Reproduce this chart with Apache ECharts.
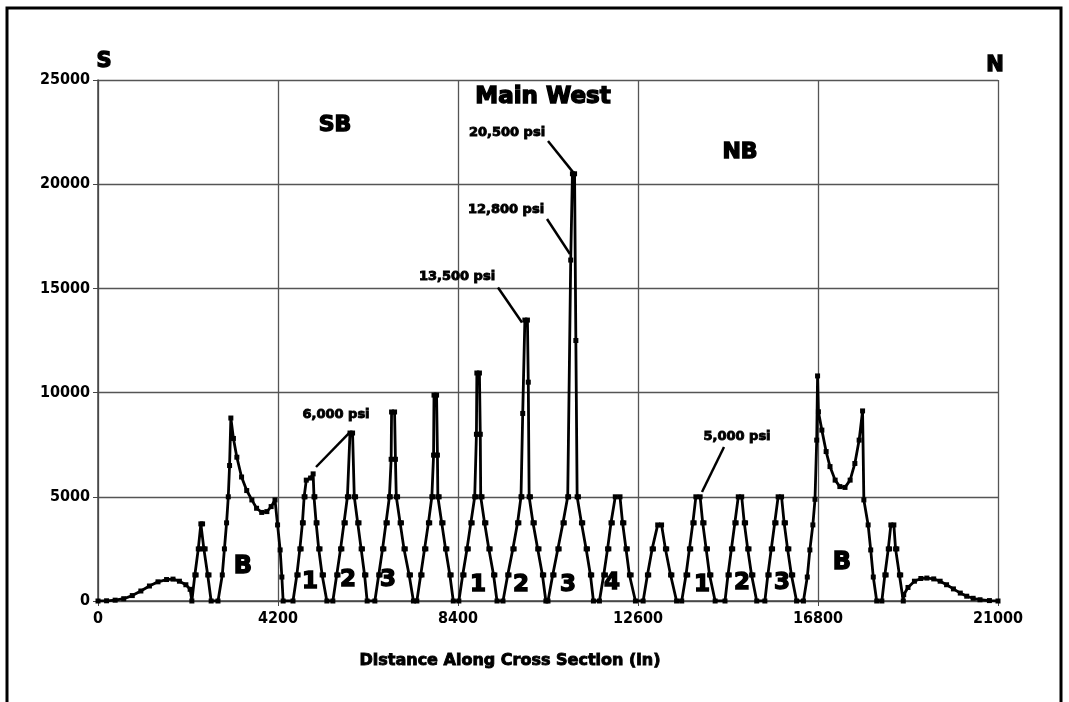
<!DOCTYPE html>
<html>
<head>
<meta charset="utf-8">
<script src="https://cdn.jsdelivr.net/npm/echarts@6/dist/echarts.min.js"></script>
<style>
  html, body { margin: 0; padding: 0; background: #fff; }
  #chart { width: 1069px; height: 702px; }
</style>
</head>
<body>
<div id="chart"></div>
<script>
// distance along cross section (in), vertical stress (psi)
var southBarrier = [
    [0, 0], [200, 10], [400, 40], [600, 110], [800, 260], [1000, 480], [1200, 720], [1400, 920],
    [1600, 1030], [1750, 1050], [1900, 950], [2050, 780], [2150, 560], [2190, 0],
    [2260, 1250], [2290, 1250], [2340, 2500], [2370, 2500], [2400, 3700], [2440, 3700],
    [2470, 2500], [2500, 2500], [2560, 1250], [2590, 1250], [2640, 0],
    [2800, 0], [2900, 1250], [2950, 2500], [3000, 3750], [3040, 5000], [3070, 6500], [3100, 8780],
    [3160, 7800], [3240, 6900], [3350, 5950], [3470, 5300], [3590, 4850], [3700, 4450], [3820, 4250],
    [3940, 4290], [4040, 4530], [4130, 4850], [4190, 3650], [4250, 2450], [4290, 1150], [4320, 0]
];
var southPanels = [
    // SB pillar 1
    [4550, 0], [4640, 1250], [4670, 1250], [4710, 2500], [4740, 2500], [4770, 3750], [4790, 3750],
    [4810, 5000], [4830, 5000], [4860, 5800], [4960, 5900], [5020, 6100], [5040, 5000], [5060, 5000],
    [5090, 3750], [5110, 3750], [5150, 2500], [5180, 2500], [5230, 1250], [5260, 1250], [5340, 0],
    // SB pillar 2
    [5480, 0], [5570, 1250], [5600, 1250], [5660, 2500], [5690, 2500], [5740, 3750], [5770, 3750],
    [5820, 5000], [5850, 5000], [5880, 8060], [5940, 8060], [5980, 5000], [6010, 5000], [6060, 3750],
    [6090, 3750], [6140, 2500], [6170, 2500], [6220, 1250], [6250, 1250], [6280, 0],
    // SB pillar 3
    [6460, 0], [6550, 1250], [6580, 1250], [6640, 2500], [6670, 2500], [6720, 3750], [6750, 3750],
    [6800, 5000], [6820, 5000], [6840, 6800], [6850, 9070], [6920, 9070], [6940, 6800], [6960, 5000],
    [6990, 5000], [7050, 3750], [7080, 3750], [7140, 2500], [7170, 2500], [7260, 1250], [7290, 1250], [7360, 0],
    // SB pillar 4
    [7440, 0], [7530, 1250], [7560, 1250], [7620, 2500], [7650, 2500], [7710, 3750], [7740, 3750],
    [7790, 5000], [7810, 5000], [7830, 7000], [7840, 9880], [7900, 9880], [7920, 7000], [7930, 5000],
    [7960, 5000], [8020, 3750], [8050, 3750], [8110, 2500], [8140, 2500], [8210, 1250], [8240, 1250], [8290, 0]
];
var mainWest = [
    // MW pillar 1
    [8420, 0], [8510, 1250], [8540, 1250], [8610, 2500], [8640, 2500], [8700, 3750], [8730, 3750],
    [8790, 5000], [8810, 5000], [8830, 8000], [8840, 10940], [8900, 10940], [8920, 8000], [8930, 5000],
    [8960, 5000], [9020, 3750], [9050, 3750], [9120, 2500], [9150, 2500], [9230, 1250], [9260, 1250], [9310, 0],
    // MW pillar 2
    [9450, 0], [9560, 1250], [9590, 1250], [9680, 2500], [9710, 2500], [9790, 3750], [9820, 3750],
    [9870, 5000], [9890, 5000], [9910, 9000], [9960, 13480], [10020, 13480], [10040, 10500], [10060, 5000],
    [10090, 5000], [10150, 3750], [10180, 3750], [10260, 2500], [10290, 2500], [10370, 1250], [10400, 1250], [10450, 0],
    // MW pillar 3
    [10500, 0], [10610, 1250], [10640, 1250], [10730, 2500], [10760, 2500], [10850, 3750], [10880, 3750],
    [10960, 5000], [10980, 5000], [11030, 16360], [11070, 20500], [11120, 20500], [11150, 12500], [11180, 5000],
    [11210, 5000], [11280, 3750], [11310, 3750], [11390, 2500], [11420, 2500], [11490, 1250], [11520, 1250], [11560, 0],
    // MW pillar 4
    [11700, 0], [11800, 1250], [11840, 1250], [11890, 2500], [11920, 2500], [11970, 3750], [12000, 3750],
    [12070, 5000], [12180, 5000], [12240, 3750], [12270, 3750], [12320, 2500], [12350, 2500], [12400, 1250],
    [12440, 1250], [12540, 0]
];
var northPanels = [
    [12720, 0], [12820, 1250], [12850, 1250], [12930, 2500], [12960, 2500], [13060, 3650], [13150, 3650],
    [13240, 2500], [13270, 2500], [13360, 1250], [13390, 1250], [13500, 0],
    // NB pillar 1
    [13620, 0], [13720, 1250], [13760, 1250], [13800, 2500], [13830, 2500], [13880, 3750], [13910, 3750],
    [13950, 5000], [14050, 5000], [14110, 3750], [14140, 3750], [14190, 2500], [14220, 2500], [14270, 1250],
    [14300, 1250], [14400, 0],
    // NB pillar 2
    [14630, 0], [14700, 1250], [14730, 1250], [14780, 2500], [14810, 2500], [14860, 3750], [14890, 3750],
    [14940, 5000], [15020, 5000], [15080, 3750], [15110, 3750], [15160, 2500], [15190, 2500], [15250, 1250],
    [15280, 1250], [15370, 0],
    // NB pillar 3
    [15560, 0], [15630, 1250], [15660, 1250], [15710, 2500], [15740, 2500], [15790, 3750], [15820, 3750],
    [15870, 5000], [15950, 5000], [16010, 3750], [16040, 3750], [16090, 2500], [16120, 2500], [16180, 1250],
    [16210, 1250], [16300, 0]
];
var northBarrier = [
    [16460, 0], [16550, 1150], [16610, 2450], [16680, 3650], [16730, 4880], [16770, 7720], [16790, 10800],
    [16810, 9080], [16890, 8200], [16990, 7170], [17080, 6450], [17200, 5800], [17310, 5490], [17430, 5450],
    [17550, 5800], [17660, 6600], [17760, 7720], [17840, 9120], [17870, 4850], [17970, 3650], [18030, 2450],
    [18090, 1150], [18170, 0],
    [18290, 0], [18360, 1250], [18390, 1250], [18440, 2500], [18470, 2500], [18500, 3650], [18570, 3650],
    [18610, 2500], [18640, 2500], [18700, 1250], [18730, 1250], [18790, 0],
    [18800, 300], [18900, 650], [19050, 950], [19200, 1080], [19340, 1100], [19500, 1060], [19650, 950],
    [19800, 780], [19960, 580], [20120, 380], [20270, 230], [20420, 130], [20580, 60], [20800, 20], [21000, 0]
];
var xTicks = [0, 4200, 8400, 12600, 16800, 21000];
var xTitle = 'Distance Along Cross Section (in)';

// stress callouts: [text, label x px, label y px, arrow from, arrow to]
var callouts = [
    ['20,500 psi', 507, 133, [10500, 22070], [11083, 20580]],
    ['12,800 psi', 506, 210, [10477, 18330], [11013, 16650]],
    ['13,500 psi', 457, 277, [9333, 15047], [9893, 13367]],
    ['6,000 psi', 336, 415, [5857, 8060], [5087, 6430]],
    ['5,000 psi', 737, 437, [14607, 7390], [14093, 5230]]
];
// area / pillar labels: [text, x px, y px, size]
var areaLabels = [
    ['S', 104, 62, 21], ['N', 995, 66, 21],
    ['SB', 335, 125, 22], ['Main West', 543, 97, 23], ['NB', 740, 152, 22],
    ['B', 243, 567, 24], ['B', 842, 563, 24],
    ['1', 310, 582, 23], ['2', 348, 580, 23], ['3', 388, 580, 23],
    ['1', 478, 585, 23], ['2', 521, 585, 23], ['3', 568, 585, 23], ['4', 612, 583, 23],
    ['1', 702, 585, 23], ['2', 742, 583, 23], ['3', 782, 583, 23],
    [xTitle, 510, 661, 16]
];

var profile = southBarrier.concat(southPanels, mainWest, northPanels, northBarrier);
var heavy = '"DejaVu Sans", sans-serif';
var narrow = '"DejaVu Sans Condensed", "Liberation Sans", sans-serif';

var chart = echarts.init(document.getElementById('chart'));

var graphics = [{
    type: 'rect',
    shape: { x: 7, y: 8, width: 1054, height: 720 },
    style: { fill: null, stroke: '#000', lineWidth: 3 },
    silent: true
}];
function heavyText(text, x, y, size) {
    return {
        type: 'text', x: x, y: y, z: 10,
        style: {
            text: text, fill: '#000', stroke: '#000', lineWidth: size > 16 ? 1.4 : 0.9,
            font: 'bold ' + size + 'px ' + heavy,
            align: 'center', verticalAlign: 'middle'
        }
    };
}
areaLabels.forEach(function (a) {
    graphics.push(heavyText(a[0], a[1], a[2], a[3]));
});
callouts.forEach(function (c) {
    graphics.push(heavyText(c[0], c[1], c[2], 13));
});

var option = {
    animation: false,
    backgroundColor: '#fff',
    grid: { left: 98, right: 71, top: 80, bottom: 101 },
    xAxis: {
        type: 'value',
        min: 0, max: 21000, interval: 4200,
        axisLine: { lineStyle: { color: '#444', width: 1.5 } },
        axisTick: { show: true, length: 5, lineStyle: { color: '#444' } },
        axisLabel: {
            fontFamily: narrow, fontWeight: 'bold', fontSize: 16, color: '#000', margin: 10,
            formatter: function (v) { return xTicks.indexOf(v) >= 0 ? String(v) : ''; }
        },
        splitLine: { show: true, lineStyle: { color: '#555', width: 1.3 } }
    },
    yAxis: {
        type: 'value',
        min: 0, max: 25000, interval: 5000,
        axisLine: { show: true, lineStyle: { color: '#444', width: 1.5 } },
        axisTick: { show: true, length: 5, lineStyle: { color: '#444' } },
        axisLabel: {
            fontFamily: narrow, fontWeight: 'bold', fontSize: 16, color: '#000', margin: 8,
            formatter: function (v) { return String(v); }
        },
        splitLine: { show: true, lineStyle: { color: '#555', width: 1.3 } }
    },
    series: [{
        type: 'line',
        data: profile,
        symbol: 'rect',
        symbolSize: 5,
        showSymbol: true,
        itemStyle: { color: '#000' },
        lineStyle: { color: '#000', width: 2.8 },
        markLine: {
            silent: true,
            symbol: 'none',
            label: { show: false },
            lineStyle: { color: '#000', width: 2.5, type: 'solid' },
            data: callouts.map(function (c) {
                return [{ coord: c[3] }, { coord: c[4] }];
            })
        }
    }],
    graphic: graphics
};

chart.setOption(option);
</script>
</body>
</html>
